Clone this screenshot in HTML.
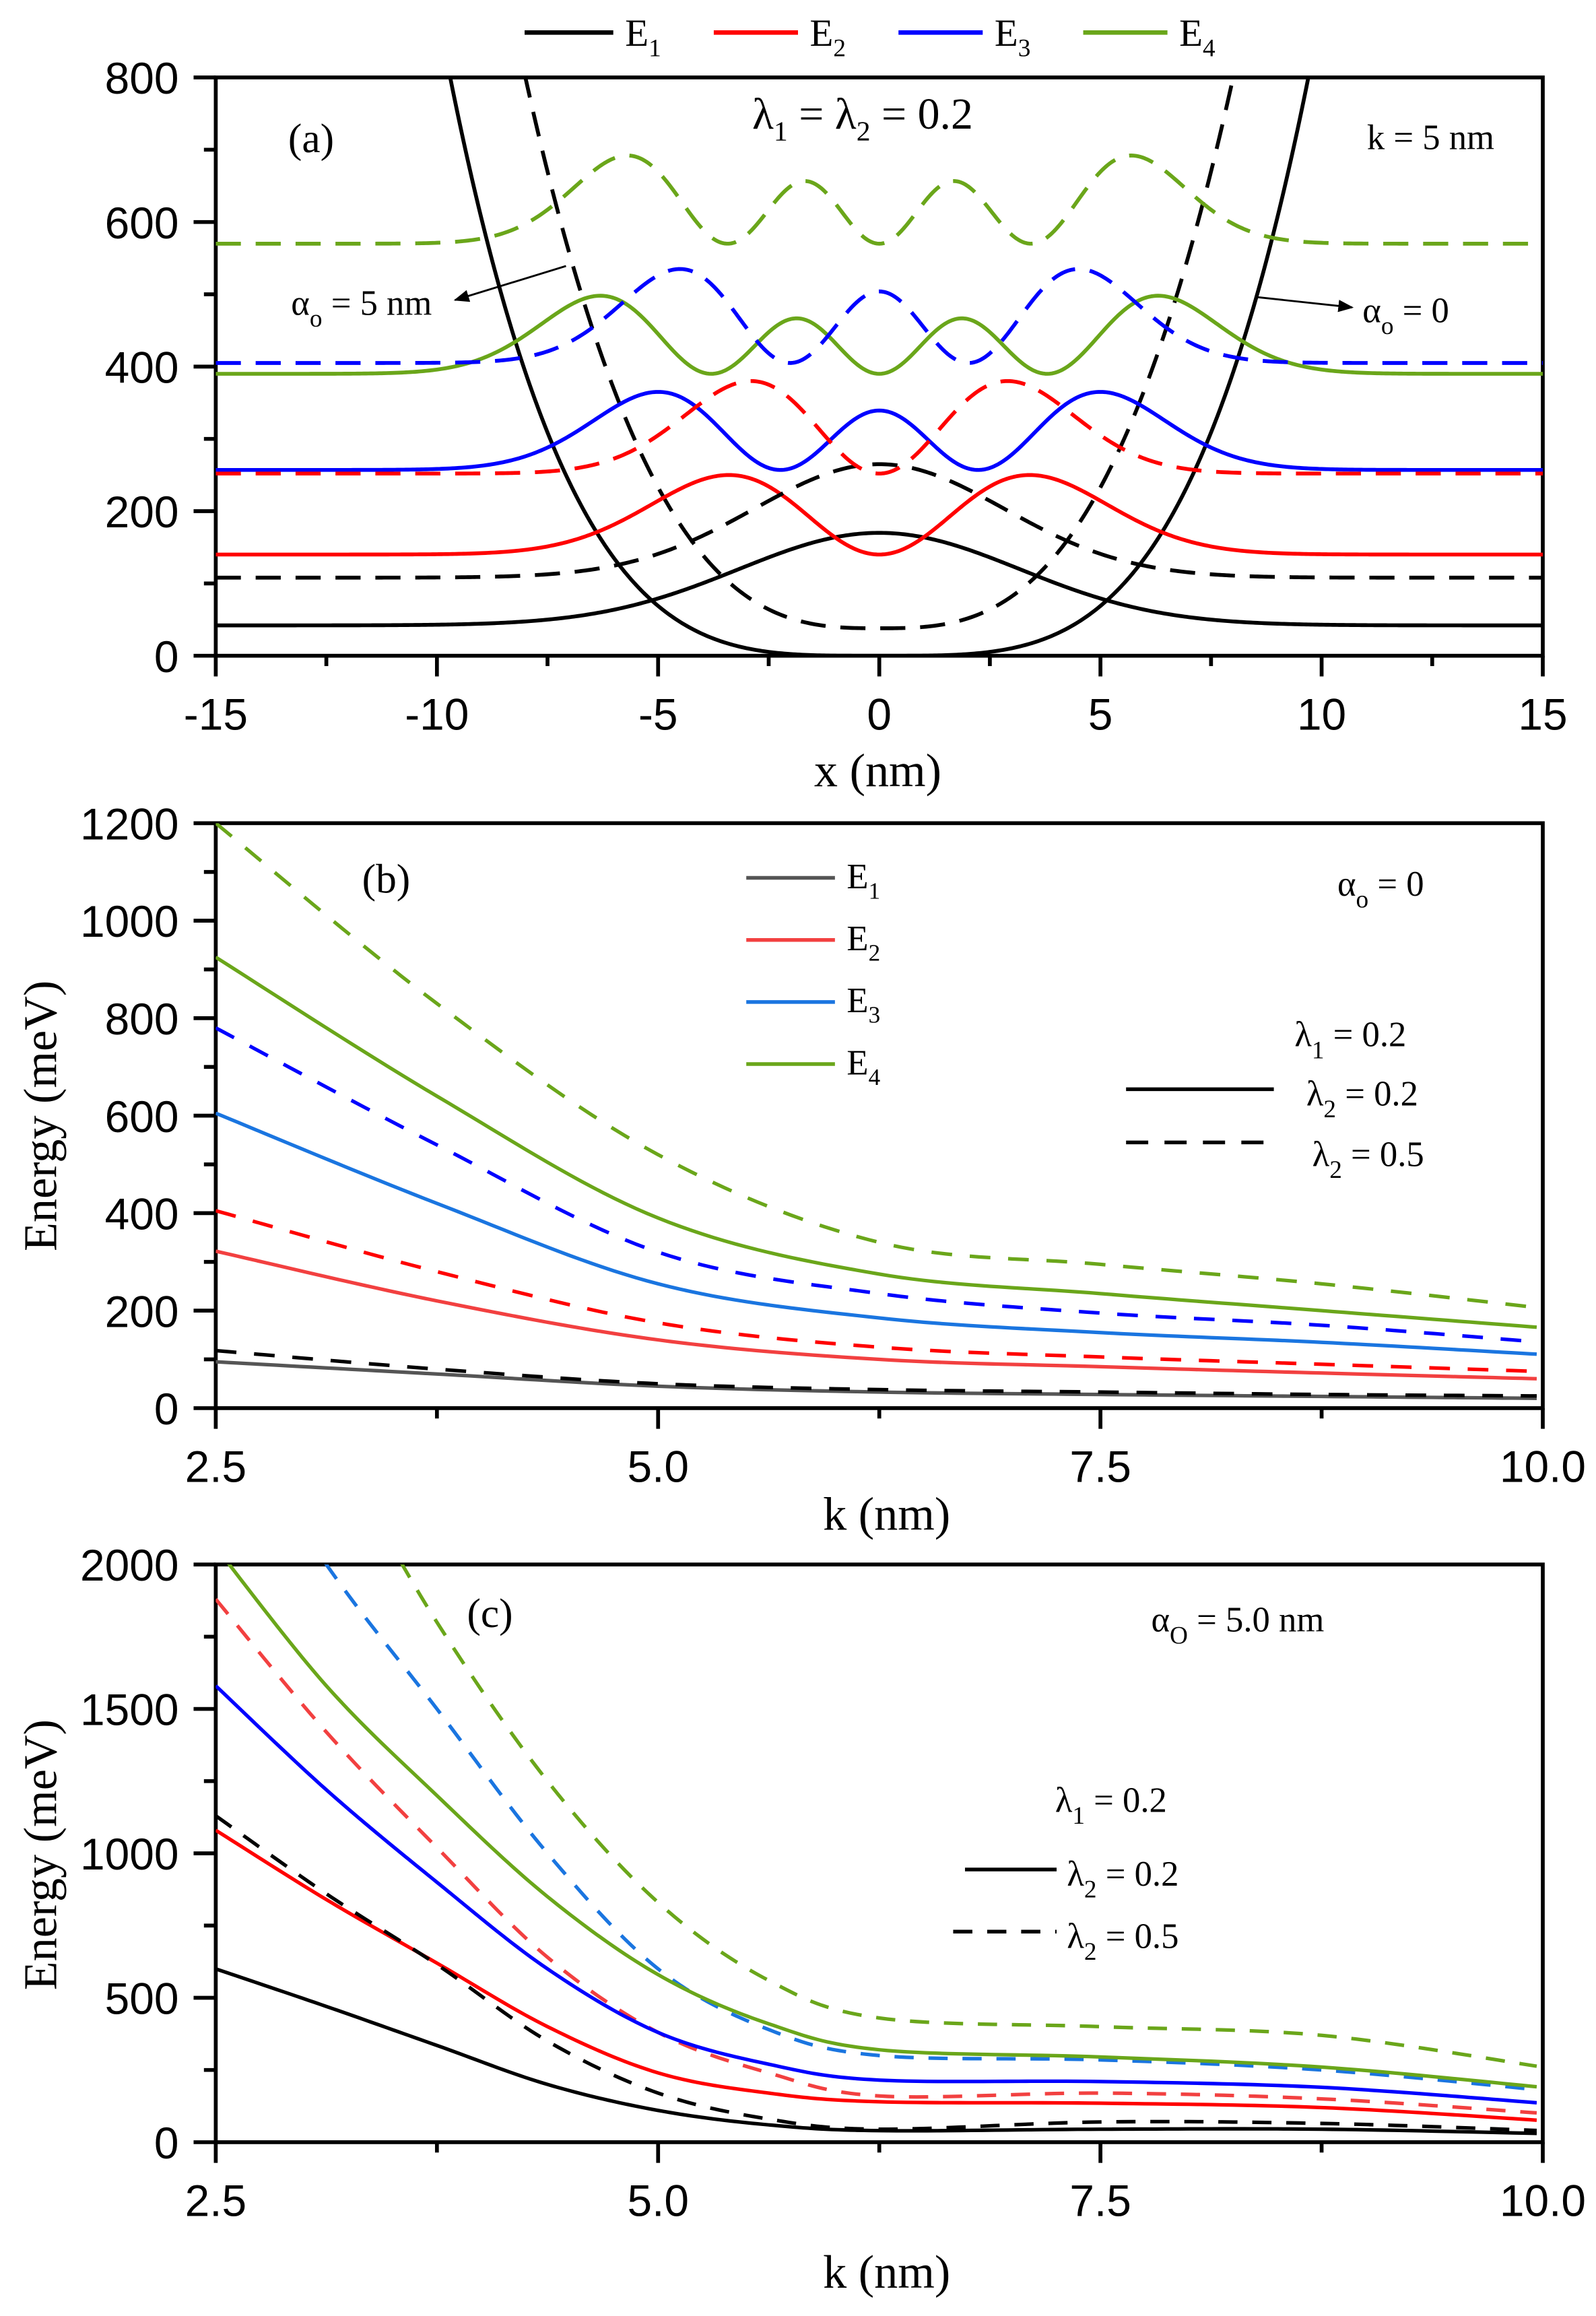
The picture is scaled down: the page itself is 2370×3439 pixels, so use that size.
<!DOCTYPE html>
<html><head><meta charset="utf-8">
<style>
html,body{margin:0;padding:0;background:#fff;}
svg{display:block;}
.tk{font-family:"Liberation Sans",sans-serif;font-size:30px;fill:#000;}
.sf{font-family:"Liberation Serif",serif;fill:#000;}
</style></head>
<body>
<svg id="s" width="2370" height="3439" viewBox="0 0 1080 1567.1" preserveAspectRatio="none" xmlns="http://www.w3.org/2000/svg">
<defs>
<clipPath id="ca"><rect x="146" y="52.4" width="898" height="391.3"/></clipPath>
<clipPath id="cb"><rect x="146" y="557" width="898" height="395.8"/></clipPath>
<clipPath id="cc"><rect x="146" y="1058.6" width="898" height="390.9"/></clipPath>
<marker id="ar" viewBox="0 0 10 10" refX="9" refY="5" markerWidth="8" markerHeight="8" orient="auto"><path d="M0,1 L10,5 L0,9 z" fill="#000"/></marker>
</defs>
<g id="g"></g>
<g class="sf">
<line x1="355" y1="22" x2="415" y2="22" stroke="#000" stroke-width="3"/>
<text x="423" y="31" font-size="26">E<tspan font-size="17" dy="7">1</tspan></text>
<line x1="483" y1="22" x2="540" y2="22" stroke="#ff0000" stroke-width="3"/>
<text x="548" y="31" font-size="26">E<tspan font-size="17" dy="7">2</tspan></text>
<line x1="608" y1="22" x2="665" y2="22" stroke="#0000ff" stroke-width="3"/>
<text x="673" y="31" font-size="26">E<tspan font-size="17" dy="7">3</tspan></text>
<line x1="733" y1="22" x2="790" y2="22" stroke="#6aa61a" stroke-width="3"/>
<text x="798" y="31" font-size="26">E<tspan font-size="17" dy="7">4</tspan></text>
<text x="195" y="103" font-size="28">(a)</text>
<text x="509" y="87" font-size="30">λ<tspan font-size="19" dy="8">1</tspan><tspan dy="-8"> = λ</tspan><tspan font-size="19" dy="8">2</tspan><tspan dy="-8"> = 0.2</tspan></text>
<text x="925" y="101" font-size="24">k = 5 nm</text>
<text x="197" y="213" font-size="24">α<tspan font-size="17" dy="8">o</tspan><tspan dy="-8"> = 5 nm</tspan></text>
<text x="922" y="218" font-size="24">α<tspan font-size="17" dy="8">o</tspan><tspan dy="-8"> = 0</tspan></text>
<line x1="383" y1="180" x2="308" y2="203" stroke="#000" stroke-width="1.3" marker-end="url(#ar)"/>
<line x1="850" y1="201" x2="915" y2="208" stroke="#000" stroke-width="1.3" marker-end="url(#ar)"/>
<text x="594" y="532" font-size="32" text-anchor="middle">x (nm)</text>
<text x="245" y="604" font-size="28">(b)</text>
<text x="905" y="606" font-size="24">α<tspan font-size="17" dy="8">o</tspan><tspan dy="-8"> = 0</tspan></text>
<text x="876" y="708" font-size="24">λ<tspan font-size="17" dy="8">1</tspan><tspan dy="-8"> = 0.2</tspan></text>
<text x="884" y="748" font-size="24">λ<tspan font-size="17" dy="8">2</tspan><tspan dy="-8"> = 0.2</tspan></text>
<text x="888" y="789" font-size="24">λ<tspan font-size="17" dy="8">2</tspan><tspan dy="-8"> = 0.5</tspan></text>
<line x1="762" y1="737" x2="862" y2="737" stroke="#000" stroke-width="2.5"/>
<line x1="762" y1="773" x2="862" y2="773" stroke="#000" stroke-width="2.5" stroke-dasharray="15,11"/>
<line x1="505" y1="594" x2="565" y2="594" stroke="#555" stroke-width="2.5"/>
<text x="573" y="601" font-size="24">E<tspan font-size="16" dy="7">1</tspan></text>
<line x1="505" y1="636" x2="565" y2="636" stroke="#f24040" stroke-width="2.5"/>
<text x="573" y="643" font-size="24">E<tspan font-size="16" dy="7">2</tspan></text>
<line x1="505" y1="678" x2="565" y2="678" stroke="#1a75e0" stroke-width="2.5"/>
<text x="573" y="685" font-size="24">E<tspan font-size="16" dy="7">3</tspan></text>
<line x1="505" y1="720" x2="565" y2="720" stroke="#6aa61a" stroke-width="2.5"/>
<text x="573" y="727" font-size="24">E<tspan font-size="16" dy="7">4</tspan></text>
<text x="600" y="1035" font-size="32" text-anchor="middle">k (nm)</text>
<text transform="translate(38,755) rotate(-90)" font-size="32" text-anchor="middle">Energy (meV)</text>
<text x="316" y="1101" font-size="28">(c)</text>
<text x="779" y="1104" font-size="24">α<tspan font-size="17" dy="8">O</tspan><tspan dy="-8"> = 5.0 nm</tspan></text>
<text x="714" y="1226" font-size="24">λ<tspan font-size="17" dy="8">1</tspan><tspan dy="-8"> = 0.2</tspan></text>
<text x="722" y="1276" font-size="24">λ<tspan font-size="17" dy="8">2</tspan><tspan dy="-8"> = 0.2</tspan></text>
<text x="722" y="1318" font-size="24">λ<tspan font-size="17" dy="8">2</tspan><tspan dy="-8"> = 0.5</tspan></text>
<line x1="653" y1="1265" x2="715" y2="1265" stroke="#000" stroke-width="2.5"/>
<line x1="645" y1="1307" x2="715" y2="1307" stroke="#000" stroke-width="2.5" stroke-dasharray="13,10"/>
<text x="600" y="1548" font-size="32" text-anchor="middle">k (nm)</text>
<text transform="translate(38,1255) rotate(-90)" font-size="32" text-anchor="middle">Energy (meV)</text>
</g>
</svg>
<script>
const NS="http://www.w3.org/2000/svg";
const G=document.getElementById('g');
function el(t,a,txt,par){const e=document.createElementNS(NS,t);for(const k in a)e.setAttribute(k,a[k]);if(txt!==undefined)e.textContent=txt;(par||G).appendChild(e);return e;}
const L=146,R=1044;
function panel(T,B,x0,x1,y0,y1,xmaj,xmin,ymaj,ymin,xf,yf){
  const sx=v=>L+(v-x0)/(x1-x0)*(R-L), sy=v=>B-(v-y0)/(y1-y0)*(B-T);
  el('rect',{x:L,y:T,width:R-L,height:B-T,fill:'none',stroke:'#000','stroke-width':2.6});
  xmaj.forEach(v=>{el('line',{x1:sx(v),x2:sx(v),y1:B,y2:B+14,stroke:'#000','stroke-width':2.6});el('text',{x:sx(v),y:B+50,'text-anchor':'middle','class':'tk'},xf(v));});
  xmin.forEach(v=>el('line',{x1:sx(v),x2:sx(v),y1:B,y2:B+7,stroke:'#000','stroke-width':2.6}));
  ymaj.forEach(v=>{el('line',{x1:L,x2:L-15,y1:sy(v),y2:sy(v),stroke:'#000','stroke-width':2.6});el('text',{x:121,y:sy(v)+11,'text-anchor':'end','class':'tk'},yf(v));});
  ymin.forEach(v=>el('line',{x1:L,x2:L-8,y1:sy(v),y2:sy(v),stroke:'#000','stroke-width':2.6}));
  return [sx,sy];
}
function poly(pts,col,dash,clip,w){
  el('path',{d:'M'+pts.map(p=>p[0].toFixed(2)+','+p[1].toFixed(2)).join('L'),fill:'none',stroke:col,'stroke-width':w||2.4,'stroke-dasharray':dash?dash:'none','clip-path':'url(#'+clip+')','stroke-linejoin':'round'});
}
let [ax,ay]=panel(52.4,443.7,-15,15,0,800,[-15,-10,-5,0,5,10,15],[-12.5,-7.5,-2.5,2.5,7.5,12.5],[0,200,400,600,800],[100,300,500,700],v=>String(v),v=>String(v));
function H(n,u){return [1,2*u,4*u*u-2,8*u*u*u-12*u][n];}
function wf(n,s,base,A,col,dash){
  let mx=0;for(let u=-6;u<=6;u+=0.01){const f=H(n,u)**2*Math.exp(-u*u);if(f>mx)mx=f;}
  const pts=[];for(let x=-15;x<=15.001;x+=0.05){const u=x/s;pts.push([ax(x),ay(base+A*H(n,u)**2*Math.exp(-u*u)/mx)]);}
  poly(pts,col,dash,'ca',2.6);
}
let pp=[],pd=[];for(let x=-15;x<=15.001;x+=0.05){pp.push([ax(x),ay(800*Math.pow(Math.abs(x)/9.7,3.7))]);pd.push([ax(x),ay(38+762*Math.pow(Math.abs(x)/8,2.9))]);}
poly(pp,'#000',null,'ca',2.6);poly(pd,'#000','17,10','ca',2.6);
wf(0,4.5,42,128,'#000');wf(1,3.4,140,110,'#ff0000');wf(2,3.16,257,108,'#0000ff');wf(3,3.1,390,108,'#6aa61a');
wf(0,4.0,108,157,'#000','17,10');wf(1,2.9,252,128,'#ff0000','17,10');wf(2,2.85,405,130,'#0000ff','17,10');wf(3,2.8,570,122,'#6aa61a','17,10');
function spl(P,sx,sy){const out=[];for(let i=0;i<P.length-1;i++){const p0=P[Math.max(i-1,0)],p1=P[i],p2=P[i+1],p3=P[Math.min(i+2,P.length-1)];
 for(let t=0;t<=1;t+=0.05){const t2=t*t,t3=t2*t;const f=(a,b,c,d)=>0.5*(2*b+(-a+c)*t+(2*a-5*b+4*c-d)*t2+(-a+3*b-3*c+d)*t3);
 out.push([sx(f(p0[0],p1[0],p2[0],p3[0])),sy(f(p0[1],p1[1],p2[1],p3[1]))]);}}return out;}
const K=[2.5,3.75,5,6.25,7.5,8.75,10];
const z=a=>a.map((v,i)=>[K[i],v]);
let [bx,by]=panel(557,952.8,2.5,10,0,1200,[2.5,5,7.5,10],[3.75,6.25,8.75],[0,200,400,600,800,1000,1200],[100,300,500,700,900,1100],v=>v.toFixed(1),v=>String(v));
const bd='14,12';
poly(spl(z([1200,830,520,340,295,255,205]),bx,by),'#6aa61a',bd,'cb');
poly(spl(z([925,640,390,275,235,200,165]),bx,by),'#6aa61a',null,'cb');
poly(spl(z([780,540,320,235,195,170,135]),bx,by),'#0000ff',bd,'cb');
poly(spl(z([605,420,255,185,155,135,110]),bx,by),'#1a75e0',null,'cb');
poly(spl(z([405,280,175,125,105,90,75]),bx,by),'#ff0000',bd,'cb');
poly(spl(z([322,220,140,100,85,72,60]),bx,by),'#f24040',null,'cb');
poly(spl(z([95,70,45,33,28,24,20]),bx,by),'#555',null,'cb');
poly(spl(z([118,80,50,38,33,28,25]),bx,by),'#000',bd,'cb');
let [cx,cy]=panel(1058.6,1449.5,2.5,10,0,2000,[2.5,5,7.5,10],[3.75,6.25,8.75],[0,500,1000,1500,2000],[250,750,1250,1750],v=>v.toFixed(1),v=>String(v));
const cd='13,10';
poly(spl([[2.5,3000],[3.125,2450],[3.75,1800],[4.375,1250],[5,830],[5.625,560],[6.25,430],[7.5,400],[8.75,370],[10,260]],cx,cy),'#6aa61a',cd,'cc');
poly(spl([[2.5,2600],[3.125,2000],[3.75,1500],[4.375,1000],[5,600],[5.625,390],[6.25,300],[7.5,285],[8.75,250],[10,180]],cx,cy),'#1a75e0',cd,'cc');
poly(spl([[2.5,2060],[3.125,1580],[3.75,1200],[4.375,850],[5,580],[5.625,410],[6.25,320],[7.5,295],[8.75,260],[10,190]],cx,cy),'#6aa61a',null,'cc');
poly(spl([[2.5,1880],[3.125,1420],[3.75,1020],[4.375,640],[5,380],[5.625,240],[6.25,160],[7.5,170],[8.75,150],[10,100]],cx,cy),'#f24040',cd,'cc');
poly(spl([[2.5,1580],[3.125,1220],[3.75,900],[4.375,600],[5,380],[5.625,270],[6.25,215],[7.5,210],[8.75,190],[10,135]],cx,cy),'#0000ff',null,'cc');
poly(spl([[2.5,1080],[3.125,840],[3.75,620],[4.375,400],[5,240],[5.625,170],[6.25,140],[7.5,135],[8.75,120],[10,75]],cx,cy),'#ff0000',null,'cc');
poly(spl([[2.5,1130],[3.125,860],[3.75,615],[4.375,350],[5,170],[5.625,80],[6.25,45],[7.5,70],[8.75,65],[10,40]],cx,cy),'#000',cd,'cc');
poly(spl([[2.5,600],[3.125,470],[3.75,335],[4.375,200],[5,110],[5.625,60],[6.25,40],[7.5,45],[8.75,45],[10,30]],cx,cy),'#000',null,'cc');
</script>
</body></html>
